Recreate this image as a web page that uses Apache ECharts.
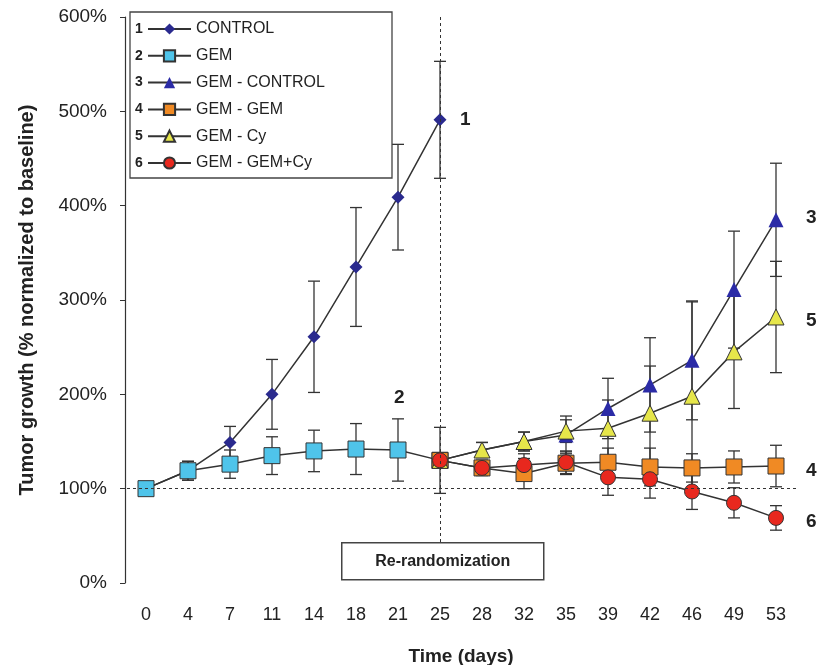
<!DOCTYPE html>
<html>
<head>
<meta charset="utf-8">
<script src="https://cdn.jsdelivr.net/npm/echarts@6/dist/echarts.min.js"></script>
<style>
html,body{margin:0;padding:0;background:#fff;}
#c{width:829px;height:665px;}
</style>
</head>
<body>
<div id="c"></div>
<script>
var days = ['0','4','7','11','14','18','21','25','28','32','35','39','42','46','49','53'];
var yTicks = ['0%','100%','200%','300%','400%','500%','600%'];

// phase 1 (days 0-25)
var control    = [100,119,149,200,261,335,409,491];
var controlErr = [0,10,17,37,59,63,56,62];
var gem        = [100,119,126,135,140,142,141,130];
var gemErr     = [0,10,15,20,22,27,33,35];

// phase 2 (days 25-53)
var gemControl    = [130,141,150,157,185,210,236,311,385];
var gemControlErr = [0,8,10,20,32,50,63,62,60];
var gemGem        = [130,122,116,127,128,123,122,123,124];
var gemGemErr     = [0,8,16,12,15,20,15,17,22];
var gemCy         = [130,141,150,161,164,180,198,245,282];
var gemCyErr      = [0,8,10,12,30,50,100,60,59];
var gemGemCy      = [130,122,125,128,112,110,97,85,69];
var gemGemCyErr   = [0,8,12,12,19,20,19,16,13];

var names = ['CONTROL','GEM','GEM - CONTROL','GEM - GEM','GEM - Cy','GEM - GEM+Cy'];
var seriesNumbers = ['1','2','3','4','5','6'];

function full(arr, offset){
  var out = [];
  for (var i=0;i<days.length;i++){
    var j = i - offset;
    out.push(j>=0 && j<arr.length ? arr[j] : null);
  }
  return out;
}
function errData(arr, err, offset){
  var out = [];
  for (var j=0;j<arr.length;j++){
    if (err[j] > 0) out.push([j+offset, arr[j]-err[j], arr[j]+err[j]]);
  }
  return out;
}
function errSeries(data){
  return {
    type:'custom', silent:true, z:1,
    renderItem:function(params, api){
      var x = api.value(0);
      var lo = api.coord([x, api.value(1)]);
      var hi = api.coord([x, api.value(2)]);
      var w = 6;
      var st = {stroke:'#333', lineWidth:1.3};
      return {type:'group', children:[
        {type:'line', shape:{x1:lo[0],y1:lo[1],x2:hi[0],y2:hi[1]}, style:st},
        {type:'line', shape:{x1:lo[0]-w,y1:lo[1],x2:lo[0]+w,y2:lo[1]}, style:st},
        {type:'line', shape:{x1:hi[0]-w,y1:hi[1],x2:hi[0]+w,y2:hi[1]}, style:st}
      ]};
    },
    data:data
  };
}
function lineSeries(name, data, symbol, size, color, border){
  return {
    name:name, type:'line', data:data, z:3,
    symbol:symbol, symbolSize:size, connectNulls:false,
    lineStyle:{color:'#333', width:1.5},
    itemStyle:{color:color, borderColor:border, borderWidth:border==='#333'?1:0},
    emphasis:{disabled:true}
  };
}

var FONT = '"Liberation Sans", Arial, sans-serif';
var chart = echarts.init(document.getElementById('c'), null, {renderer:'canvas'});
var legendTop = 21, rowGap = 26.8;
var numGraphics = [];
for (var k=0;k<6;k++){
  numGraphics.push({type:'text', left:135, top:legendTop + 8 + k*rowGap - 7, z:12,
    style:{text:seriesNumbers[k], font:'bold 14px ' + FONT, fill:'#222'}});
}
var option = {
  backgroundColor:'#ffffff',
  animation:false,
  grid:{left:125, right:32, top:17, bottom:82, containLabel:false, outerBoundsMode:'none'},
  xAxis:{
    type:'category', data:days, boundaryGap:true,
    axisLine:{show:false}, axisTick:{show:false},
    axisLabel:{color:'#222', fontSize:18, margin:23, fontFamily:FONT},
    name:'Time (days)', nameLocation:'middle', nameGap:64,
    nameTextStyle:{fontSize:19, fontWeight:'bold', color:'#222', fontFamily:FONT}
  },
  yAxis:{
    type:'value', min:0, max:600, interval:100,
    axisLine:{show:true, lineStyle:{color:'#333', width:1.2}},
    axisTick:{show:true, length:5, lineStyle:{color:'#333'}},
    splitLine:{show:false},
    axisLabel:{color:'#222', fontSize:19, margin:18, fontFamily:FONT,
      formatter:function(v){ return yTicks[Math.round(v/100)]; }},
    name:'Tumor growth (% normalized to baseline)', nameLocation:'middle', nameGap:88,
    nameTextStyle:{fontSize:20, fontWeight:'bold', color:'#222', fontFamily:FONT}
  },
  legend:{
    orient:'vertical', left:147, top:legendTop, itemGap:rowGap-16, itemWidth:43, itemHeight:14,
    data:names, padding:0,
    textStyle:{fontSize:16, color:'#222', fontFamily:FONT},
    selectedMode:false
  },
  graphic:[
    {type:'rect', shape:{x:130, y:12, width:262, height:166}, style:{fill:'none', stroke:'#444', lineWidth:1.3}, z:10},
    {type:'group', left:341, top:542, z:20, children:[
      {type:'rect', shape:{x:0,y:0,width:202,height:37}, style:{fill:'#fff', stroke:'#444', lineWidth:1.5}},
      {type:'text', x:101, y:18.5, style:{text:'Re-randomization', font:'bold 16px ' + FONT, fill:'#222', align:'center', verticalAlign:'middle'}}
    ]},
    {type:'text', left:460, top:110, style:{text:'1', font:'bold 19px ' + FONT, fill:'#222'}},
    {type:'text', left:394, top:388, style:{text:'2', font:'bold 19px ' + FONT, fill:'#222'}},
    {type:'text', left:806, top:208, style:{text:'3', font:'bold 19px ' + FONT, fill:'#222'}},
    {type:'text', left:806, top:311, style:{text:'5', font:'bold 19px ' + FONT, fill:'#222'}},
    {type:'text', left:806, top:461, style:{text:'4', font:'bold 19px ' + FONT, fill:'#222'}},
    {type:'text', left:806, top:512, style:{text:'6', font:'bold 19px ' + FONT, fill:'#222'}}
  ].concat(numGraphics),
  series:[
    errSeries(errData(control, controlErr, 0)),
    errSeries(errData(gem, gemErr, 0)),
    errSeries(errData(gemControl, gemControlErr, 7)),
    errSeries(errData(gemGem, gemGemErr, 7)),
    errSeries(errData(gemCy, gemCyErr, 7)),
    errSeries(errData(gemGemCy, gemGemCyErr, 7)),
    {
      type:'line', data:[], silent:true,
      markLine:{silent:true, symbol:'none', label:{show:false},
        lineStyle:{type:[3,3], color:'#333', width:1},
        data:[[{x:127, yAxis:100}, {x:797, yAxis:100}],
              [{xAxis:'25', y:17}, {xAxis:'25', y:542}]]}
    },
    lineSeries(names[0], full(control,0), 'diamond', 13, '#2a2a8e', '#2a2a8e'),
    lineSeries(names[1], full(gem,0), 'rect', 16, '#4fc4ea', '#333'),
    lineSeries(names[2], full(gemControl,7), 'triangle', 15, '#2b2ba6', '#2b2ba6'),
    lineSeries(names[3], full(gemGem,7), 'rect', 16, '#f08a24', '#333'),
    lineSeries(names[4], full(gemCy,7), 'triangle', 16, '#e6e64a', '#333'),
    lineSeries(names[5], full(gemGemCy,7), 'circle', 15, '#e8281e', '#333')
  ]
};
chart.setOption(option);
</script>
</body>
</html>
